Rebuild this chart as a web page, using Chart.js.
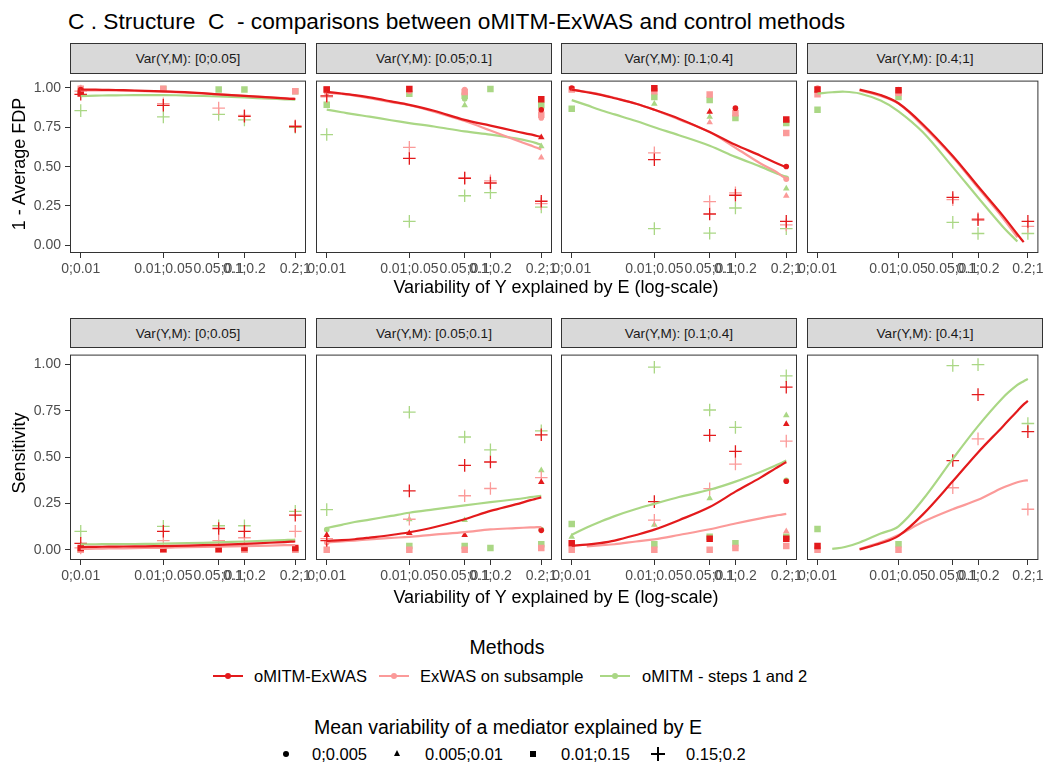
<!DOCTYPE html>
<html><head><meta charset="utf-8">
<script src="https://cdn.jsdelivr.net/npm/chart.js@4.4.1/dist/chart.umd.min.js"></script>
<style>
body{margin:0;background:#fff;font-family:"Liberation Sans",Arial,sans-serif;}
#root{position:relative;width:1046px;height:765px;overflow:hidden;background:#fff;}
.t{position:absolute;white-space:pre;line-height:1;}
.strip{position:absolute;background:#D9D9D9;border:1px solid #333;box-sizing:border-box;font-size:13.6px;color:#1A1A1A;display:flex;align-items:center;justify-content:center;}
canvas{position:absolute;}
.k{position:absolute;}
</style></head>
<body><div id="root"></div>
<script>
const N = null;
// ---- categories / labels ----
const xCats = ["0;0.01","0.01;0.05","0.05;0.1","0.1;0.2","0.2;1"];
const xPos = [0, 0.385, 0.643, 0.763, 1];        // log-scale positions of the categories
const facets = ["Var(Y,M): [0;0.05]","Var(Y,M): [0.05;0.1]","Var(Y,M): [0.1;0.4]","Var(Y,M): [0.4;1]"];
const methods = ["oMITM-ExWAS","ExWAS on subsample","oMITM - steps 1 and 2"];
const shapeLabels = ["0;0.005","0.005;0.01","0.01;0.15","0.15;0.2"];
const yTicks = [0, 0.25, 0.5, 0.75, 1];
const curveX = [0, 0.07, 0.13, 0.2, 0.3, 0.385, 0.5, 0.643, 0.763, 0.88, 0.95, 0.98, 1];

// ---- points: [circle, triangle, square, plus] x 5 categories ----
// 1 - Average FDP
const fdp1Red   = [[0.99,N,N,N,N],[N,N,N,N,N],[0.965,N,N,N,N],[0.96,0.89,N,0.82,0.755]];
const fdp1Pink  = [[1.0,0.99,N,N,N],[N,N,N,N,N],[0.995,0.995,N,N,0.98],[0.98,0.90,0.872,0.826,0.76]];
const fdp1Green = [[N,N,N,N,N],[N,N,N,N,N],[0.98,0.994,0.99,0.99,0.98],[0.856,0.816,0.832,0.797,0.75]];
const fdp2Red   = [[N,N,N,N,0.862],[N,N,N,N,0.686],[0.99,0.994,N,N,0.929],[0.95,0.552,0.426,0.396,0.28]];
const fdp2Pink  = [[0.97,0.98,0.99,N,0.81],[N,N,N,N,0.558],[0.99,N,0.975,N,0.83],[0.943,0.623,0.43,0.41,0.265]];
const fdp2Green = [[N,N,0.93,N,N],[N,N,0.89,N,0.629],[0.893,0.964,0.95,0.994,0.89],[0.704,0.152,0.315,0.335,0.243]];
const fdp3Red   = [[1.0,N,N,0.872,0.501],[N,N,0.848,N,N],[N,0.999,N,N,0.80],[N,0.544,0.199,0.318,0.152]];
const fdp3Pink  = [[N,N,N,N,0.42],[N,N,0.781,N,0.315],[0.99,0.98,0.958,0.84,0.714],[N,0.588,0.278,0.333,0.13]];
const fdp3Green = [[N,N,N,N,0.426],[N,0.899,0.816,N,0.361],[0.868,0.943,0.923,0.81,0.777],[N,0.106,0.077,0.237,0.106]];
const fdp4Red   = [[N,N,N,N,N],[N,N,N,N,N],[0.99,0.985,N,N,N],[N,N,0.304,0.162,0.152]];
const fdp4Pink  = [[1.0,0.99,N,N,N],[N,N,N,N,N],[0.96,0.97,N,N,N],[N,N,0.29,0.17,0.12]];
const fdp4Green = [[N,N,N,N,N],[N,N,N,N,N],[0.862,0.943,N,N,N],[N,N,0.146,0.075,0.075]];
// Sensitivity
const sens1Red   = [[N,N,N,N,N],[N,N,N,N,N],[0.01,0.005,0.005,0.01,0.01],[0.035,0.10,0.115,0.10,0.187]];
const sens1Pink  = [[N,N,N,N,N],[N,N,N,N,N],[0,0,0,0,0],[0.01,0.05,0.05,0.065,0.10]];
const sens1Green = [[N,N,N,N,N],[N,N,N,N,N],[0,0,0,0,0],[0.10,0.127,0.13,0.13,0.208]];
const sens2Red   = [[N,N,N,N,0.105],[0.08,0.09,0.08,N,0.366],[N,N,N,N,N],[0.05,0.318,0.456,0.474,0.621]];
const sens2Pink  = [[0.04,N,N,N,N],[N,N,N,N,N],[0,0,0,N,0.01],[0.06,0.165,0.292,0.331,0.39]];
const sens2Green = [[0.109,N,N,N,0.109],[N,0.165,0.16,N,0.429],[N,0.02,0.02,0.01,0.03],[0.217,0.743,0.609,0.54,0.642]];
const sens3Red   = [[N,N,N,N,0.37],[N,N,N,N,0.679],[0.035,N,0.06,N,0.06],[N,0.26,0.618,0.531,0.878]];
const sens3Pink  = [[N,N,N,0.01,0.06],[N,N,N,N,0.1],[0,0,0,0.01,0.02],[N,0.16,0.33,0.463,0.587]];
const sens3Green = [[N,N,N,N,0.375],[0.07,0.135,0.278,N,0.726],[0.139,0.03,0.07,0.035,0.07],[N,0.986,0.755,0.661,0.939]];
const sens4Red   = [[N,N,N,N,N],[N,N,N,N,N],[0.02,N,N,N,N],[N,N,0.482,0.838,0.638]];
const sens4Pink  = [[N,N,N,N,N],[N,N,N,N,N],[0,0,N,N,N],[N,N,0.335,0.599,0.219]];
const sens4Green = [[N,N,N,N,N],[N,N,N,N,N],[0.113,0.03,N,N,N],[N,N,0.995,1.0,0.682]];

// ---- smoothed curves, values at curveX ----
const fdp1RedFit   = [0.99,0.989,0.988,0.986,0.982,0.978,0.972,0.96,0.95,0.94,0.934,0.931,0.93];
const fdp1PinkFit  = [0.985,0.985,0.985,0.983,0.98,0.977,0.97,0.96,0.95,0.94,0.935,0.933,0.932];
const fdp1GreenFit = [0.948,0.951,0.953,0.954,0.955,0.955,0.952,0.946,0.94,0.932,0.928,0.927,0.926];
const fdp2RedFit   = [0.975,0.965,0.955,0.94,0.915,0.893,0.855,0.797,0.761,0.725,0.705,0.695,0.69];
const fdp2PinkFit  = [0.97,0.962,0.952,0.935,0.91,0.89,0.85,0.79,0.73,0.67,0.635,0.62,0.609];
const fdp2GreenFit = [0.862,0.846,0.832,0.818,0.795,0.777,0.755,0.724,0.704,0.68,0.66,0.648,0.639];
const fdp3RedFit   = [0.99,0.973,0.958,0.935,0.9,0.862,0.805,0.72,0.639,0.57,0.525,0.507,0.497];
const fdp3PinkFit  = [0.99,0.975,0.96,0.938,0.9,0.862,0.8,0.72,0.62,0.52,0.47,0.44,0.426];
const fdp3GreenFit = [0.923,0.891,0.862,0.832,0.79,0.75,0.7,0.633,0.562,0.5,0.46,0.445,0.436];
const fdp4RedFit   = [N,N,N,0.99,0.955,0.903,0.77,0.568,0.375,0.19,0.07,0.02,N];
const fdp4PinkFit  = [N,N,N,0.985,0.95,0.9,0.76,0.56,0.365,0.175,0.05,N,N];
const fdp4GreenFit = [0.964,0.973,0.976,0.965,0.92,0.852,0.72,0.497,0.304,0.12,0.024,N,N];
const sens1RedFit   = [0.015,0.016,0.017,0.018,0.019,0.02,0.023,0.027,0.032,0.038,0.042,0.044,0.045];
const sens1PinkFit  = [0.005,0.006,0.007,0.008,0.01,0.011,0.014,0.017,0.02,0.023,0.025,0.025,0.025];
const sens1GreenFit = [0.03,0.03,0.031,0.031,0.032,0.033,0.036,0.04,0.045,0.05,0.053,0.054,0.055];
const sens2RedFit   = [0.048,0.052,0.057,0.066,0.08,0.095,0.122,0.165,0.21,0.245,0.268,0.277,0.283];
const sens2PinkFit  = [0.04,0.045,0.05,0.056,0.064,0.07,0.082,0.095,0.11,0.117,0.121,0.122,0.123];
const sens2GreenFit = [0.118,0.135,0.15,0.163,0.183,0.2,0.218,0.24,0.257,0.273,0.284,0.289,0.292];
const sens3RedFit   = [0.022,0.028,0.036,0.05,0.08,0.109,0.16,0.231,0.314,0.39,0.44,0.46,0.474];
const sens3PinkFit  = [N,0.018,0.024,0.03,0.045,0.056,0.08,0.111,0.142,0.17,0.185,0.19,0.194];
const sens3GreenFit = [0.081,0.12,0.15,0.182,0.22,0.248,0.285,0.324,0.368,0.42,0.455,0.47,0.482];
const sens4RedFit   = [N,N,N,0.002,0.035,0.075,0.19,0.37,0.526,0.665,0.75,0.785,0.804];
const sens4PinkFit  = [N,N,N,0.005,0.04,0.08,0.15,0.219,0.27,0.335,0.365,0.373,0.375];
const sens4GreenFit = [N,0.005,0.015,0.04,0.088,0.127,0.27,0.491,0.668,0.82,0.89,0.91,0.922];

// ---- styling / layout ----
const COLORS = ['#E31A1C','#FB9A99','#AAD785'];
const SHAPES = ['circle','triangle','rect','cross'];
const SIZES = [2.8, 3.8, 4.6, 6.3];
const FONT = '"Liberation Sans", Arial, sans-serif';
const plotLefts = [70, 316, 561, 807];
const plotW = 236;
const rowsLayout = [
  {stripTop:43, plotTop:73, plotBot:253, ymin:-0.049, ymax:1.047},
  {stripTop:318, plotTop:347, plotBot:560, ymin:-0.055, ymax:1.054}
];
const root = document.getElementById('root');
Chart.defaults.font.family = FONT;
Chart.defaults.font.size = 14;
Chart.defaults.color = '#4D4D4D';

function txt(s, x, y, size, align, extra) {
  const d = document.createElement('div');
  d.className = 't';
  d.textContent = s;
  d.style.fontSize = size + 'px';
  d.style.left = x + 'px';
  d.style.top = y + 'px';
  d.style.color = '#000';
  d.style.transform = (align === 'center' ? 'translate(-50%,-50%)' : 'translate(0,-50%)') + (extra || '');
  root.appendChild(d);
  return d;
}

const borderPlugin = {
  id: 'pborder',
  afterDatasetsDraw(chart) {
    const {ctx, chartArea: a} = chart;
    ctx.save();
    ctx.strokeStyle = '#333333';
    ctx.lineWidth = 1;
    ctx.strokeRect(a.left + 0.5, a.top + 0.5, a.right - a.left - 1, a.bottom - a.top - 1);
    ctx.restore();
  }
};

function makePanel(row, col, pts, fits) {
  const R = rowsLayout[row];
  const L = plotLefts[col], T = R.plotTop, H = R.plotBot - R.plotTop;
  const yW = col === 0 ? 70 : 0;
  const padL = col === 0 ? 0 : 30;
  const padR = col === 3 ? (1046 - (L + plotW)) : 30;
  const xAxisH = 30;
  // strip
  const st = document.createElement('div');
  st.className = 'strip';
  st.style.left = L + 'px'; st.style.top = R.stripTop + 'px';
  st.style.width = plotW + 'px'; st.style.height = (R.plotTop - R.stripTop + 1) + 'px';
  st.textContent = facets[col];
  root.appendChild(st);
  // canvas
  const cv = document.createElement('canvas');
  const cw = yW + padL + plotW + padR, ch = H + xAxisH;
  cv.width = cw; cv.height = ch;
  cv.style.left = (L - yW - padL) + 'px'; cv.style.top = T + 'px';
  cv.style.width = cw + 'px'; cv.style.height = ch + 'px';
  root.appendChild(cv);

  const datasets = [];
  [2, 1, 0].forEach(m => {
    pts[m].forEach((vals, s) => {
      const data = [];
      vals.forEach((v, i) => { if (v !== null) data.push({x: xPos[i], y: v}); });
      if (!data.length) return;
      datasets.push({
        data, showLine: false, pointStyle: SHAPES[s], pointRadius: SIZES[s],
        backgroundColor: COLORS[m], borderColor: COLORS[m],
        borderWidth: s === 3 ? 1.3 : 0, order: 10 + m
      });
    });
  });
  [2, 1, 0].forEach(m => {
    const data = [];
    fits[m].forEach((v, i) => { if (v !== null) data.push({x: curveX[i], y: v}); });
    datasets.push({
      data, showLine: true, pointRadius: 0, borderColor: COLORS[m], backgroundColor: COLORS[m],
      borderWidth: 2.2, tension: 0.35, fill: false, order: m
    });
  });

  new Chart(cv, {
    type: 'scatter',
    data: {datasets},
    plugins: [borderPlugin],
    options: {
      responsive: false, animation: false, events: [],
      layout: {padding: {left: padL, right: padR, top: 0, bottom: 0}},
      plugins: {legend: {display: false}, tooltip: {enabled: false}},
      scales: {
        x: {
          type: 'linear', min: -0.05, max: 1.05,
          grid: {display: true, drawOnChartArea: false, drawTicks: true, tickLength: 5, color: '#333333'},
          border: {display: false},
          afterBuildTicks: s => { s.ticks = xPos.map(v => ({value: v})); },
          afterFit: s => { s.height = xAxisH; s.paddingLeft = 0; s.paddingRight = 0; },
          ticks: {autoSkip: false, maxRotation: 0, minRotation: 0, padding: 3, color: '#4D4D4D',
                  font: {size: 14}, callback: (v, i) => xCats[i]}
        },
        y: {
          display: col === 0, min: R.ymin, max: R.ymax,
          grid: {display: true, drawOnChartArea: false, drawTicks: true, tickLength: 5, color: '#333333'},
          border: {display: false},
          afterBuildTicks: s => { s.ticks = yTicks.map(v => ({value: v})); },
          afterFit: s => { s.width = yW; s.paddingTop = 0; s.paddingBottom = 0; },
          ticks: {padding: 4, color: '#4D4D4D', font: {size: 14}, callback: v => Number(v).toFixed(2)}
        }
      }
    }
  });
}

// ---- panels ----
makePanel(0, 0, [fdp1Red, fdp1Pink, fdp1Green], [fdp1RedFit, fdp1PinkFit, fdp1GreenFit]);
makePanel(0, 1, [fdp2Red, fdp2Pink, fdp2Green], [fdp2RedFit, fdp2PinkFit, fdp2GreenFit]);
makePanel(0, 2, [fdp3Red, fdp3Pink, fdp3Green], [fdp3RedFit, fdp3PinkFit, fdp3GreenFit]);
makePanel(0, 3, [fdp4Red, fdp4Pink, fdp4Green], [fdp4RedFit, fdp4PinkFit, fdp4GreenFit]);
makePanel(1, 0, [sens1Red, sens1Pink, sens1Green], [sens1RedFit, sens1PinkFit, sens1GreenFit]);
makePanel(1, 1, [sens2Red, sens2Pink, sens2Green], [sens2RedFit, sens2PinkFit, sens2GreenFit]);
makePanel(1, 2, [sens3Red, sens3Pink, sens3Green], [sens3RedFit, sens3PinkFit, sens3GreenFit]);
makePanel(1, 3, [sens4Red, sens4Pink, sens4Green], [sens4RedFit, sens4PinkFit, sens4GreenFit]);

// ---- titles ----
txt("C . Structure  C  - comparisons between oMITM-ExWAS and control methods", 68, 21, 22.7, 'left');
txt("1 - Average FDP", 19, 164, 18, 'center', ' rotate(-90deg)');
txt("Sensitivity", 19, 453, 18, 'center', ' rotate(-90deg)');
txt("Variability of Y explained by E (log-scale)", 556, 287, 18, 'center');
txt("Variability of Y explained by E (log-scale)", 556, 597, 18, 'center');

// ---- legends ----
txt("Methods", 507, 648, 19.5, 'center');
const keyX = [213, 379, 600], keyTextX = [254, 420, 642];
methods.forEach((m, i) => {
  const ln = document.createElement('div');
  ln.className = 'k';
  ln.style.cssText = `left:${keyX[i]}px;top:675px;width:30px;height:2.2px;background:${COLORS[i]};`;
  root.appendChild(ln);
  const dot = document.createElement('div');
  dot.className = 'k';
  dot.style.cssText = `left:${keyX[i] + 12}px;top:673px;width:6px;height:6px;border-radius:50%;background:${COLORS[i]};`;
  root.appendChild(dot);
  txt(m, keyTextX[i], 676, 16.5, 'left');
});
txt("Mean variability of a mediator explained by E", 508, 728, 19.5, 'center');
const shX = [286, 397, 532.5, 658], shTX = [312, 425, 561, 686];
shapeLabels.forEach((s, i) => {
  const e = document.createElement('div');
  e.className = 'k';
  if (i === 0) e.style.cssText = `left:${shX[i]-3}px;top:751px;width:6px;height:6px;border-radius:50%;background:#000;`;
  if (i === 1) e.style.cssText = `left:${shX[i]-3.5}px;top:750px;width:0;height:0;border-left:3.5px solid transparent;border-right:3.5px solid transparent;border-bottom:6px solid #000;`;
  if (i === 2) e.style.cssText = `left:${shX[i]-3}px;top:751px;width:6px;height:6px;background:#000;`;
  if (i === 3) {
    e.style.cssText = `left:${shX[i]-7}px;top:747px;width:14px;height:14px;`;
    e.innerHTML = '<div style="position:absolute;left:0;top:6.25px;width:14px;height:1.5px;background:#000"></div><div style="position:absolute;top:0;left:6.25px;height:14px;width:1.5px;background:#000"></div>';
  }
  root.appendChild(e);
  txt(s, shTX[i], 754, 16.5, 'left');
});
</script>
</body></html>
